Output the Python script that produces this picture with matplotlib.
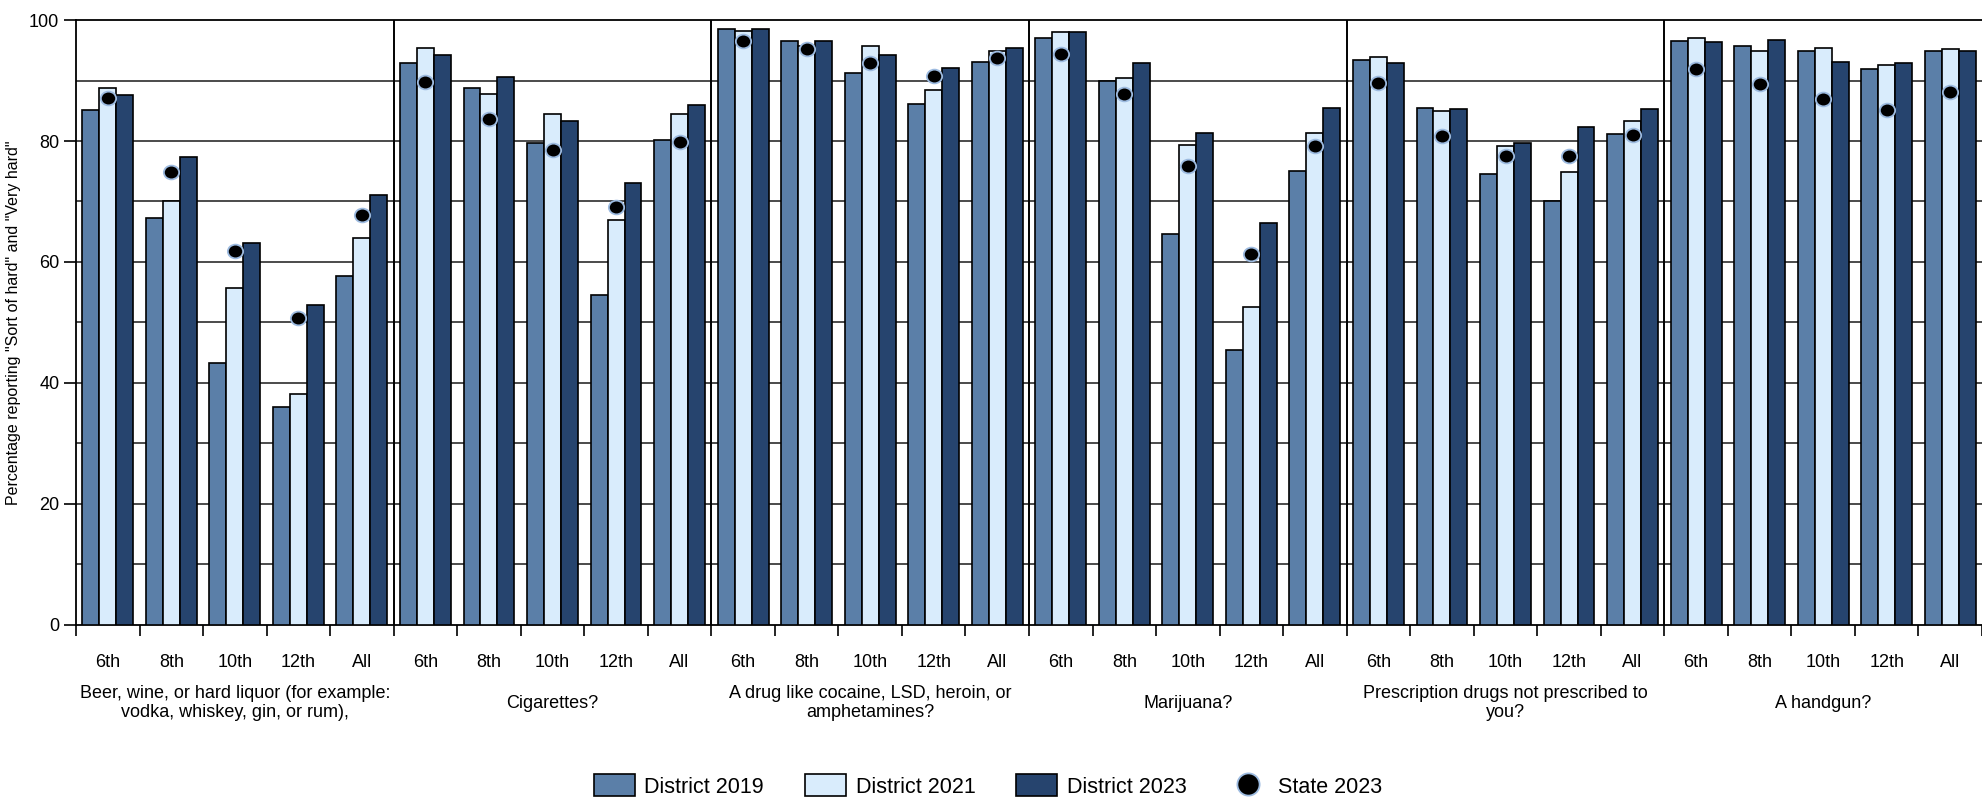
import numpy as np
import matplotlib
matplotlib.use("Agg")
import matplotlib.pyplot as plt
from matplotlib.patches import Patch
from matplotlib.lines import Line2D
from matplotlib.path import Path
from matplotlib.transforms import blended_transform_factory, Affine2D

plt.rcParams['font.family'] = ['Liberation Sans Narrow', 'Liberation Sans', 'DejaVu Sans']

grades = ["6th", "8th", "10th", "12th", "All"]
groups = [
    "Beer, wine, or hard liquor (for example:\nvodka, whiskey, gin, or rum),",
    "Cigarettes?",
    "A drug like cocaine, LSD, heroin, or\namphetamines?",
    "Marijuana?",
    "Prescription drugs not prescribed to\nyou?",
    "A handgun?",
]

district_2019 = [85.1, 67.2, 43.3, 36.0, 57.7,
                 92.9, 88.7, 79.7, 54.6, 80.1,
                 98.5, 96.6, 91.2, 86.1, 93.1,
                 97.1, 90.0, 64.7, 45.5, 75.1,
                 93.4, 85.5, 74.6, 70.1, 81.1,
                 96.6, 95.7, 94.9, 92.0, 94.9]
district_2021 = [88.7, 70.0, 55.7, 38.2, 63.9,
                 95.4, 87.8, 84.4, 66.9, 84.4,
                 98.2, 95.8, 95.7, 88.4, 94.9,
                 98.0, 90.4, 79.3, 52.6, 81.4,
                 93.9, 85.0, 79.1, 74.8, 83.3,
                 97.1, 94.9, 95.4, 92.6, 95.2]
district_2023 = [87.6, 77.4, 63.1, 52.9, 71.1,
                 94.3, 90.6, 83.3, 73.1, 85.9,
                 98.5, 96.6, 94.3, 92.1, 95.4,
                 98.0, 92.9, 81.4, 66.4, 85.5,
                 92.9, 85.3, 79.7, 82.4, 85.3,
                 96.4, 96.8, 93.1, 92.9, 94.9]
state_2023 = [87.1, 74.8, 61.8, 50.7, 67.8,
              89.8, 83.6, 78.6, 69.1, 79.9,
              96.5, 95.2, 92.9, 90.7, 93.7,
              94.4, 87.8, 75.8, 61.3, 79.1,
              89.6, 80.9, 77.6, 77.5, 81.0,
              91.9, 89.5, 86.9, 85.2, 88.2]

c2019 = '#5b7fa8'
c2021 = '#d9ecfc'
c2023 = '#26446e'
dot_edge = '#9dbbe0'

W, H = 1982, 801
fig = plt.figure(figsize=(W / 100, H / 100), dpi=100)
left_px, top_px, bot_px = 76, 20.2, 624.5
cat_px = 63.85
ax = fig.add_axes([left_px / W, 1 - bot_px / H, (W - left_px) / W, (bot_px - top_px) / H])

n = len(district_2019)
x = np.arange(n)
bw = 0.2667
ax.bar(x - bw, district_2019, bw, color=c2019, edgecolor='black', linewidth=1.2, zorder=3)
ax.bar(x, district_2021, bw, color=c2021, edgecolor='black', linewidth=1.2, zorder=3)
ax.bar(x + bw, district_2023, bw, color=c2023, edgecolor='black', linewidth=1.2, zorder=3)

circ = Path.unit_circle()
ell = circ.transformed(Affine2D().scale(1.0, 0.9))
ax.plot(x, state_2023, linestyle='none', marker=ell, markersize=11,
        markerfacecolor='black', markeredgecolor=dot_edge, markeredgewidth=1.3, zorder=4)

ax.set_ylim(0, 100)
ax.set_xlim(-0.5, -0.5 + (W - left_px) / cat_px)

for yv in range(10, 100, 10):
    ax.axhline(yv, color='#1a1a1a', linewidth=1.1, zorder=1)
for g in range(1, len(groups)):
    ax.axvline(5 * g - 0.5, color='black', linewidth=1.4, zorder=2)

ax.spines['right'].set_visible(False)
for s in ['top', 'left', 'bottom']:
    ax.spines[s].set_color('black')
    ax.spines[s].set_linewidth(1.3)

ax.set_yticks(range(0, 101, 20))
ax.tick_params(axis='y', length=9, width=1.2, labelsize=13, pad=3)
ax.set_xticks(np.arange(-0.5, n, 1.0))
ax.set_xticklabels([])
ax.tick_params(axis='x', which='major', length=8, width=1.2)
ax.set_xticks(x, minor=True)
ax.set_xticklabels(grades * len(groups), minor=True)
ax.tick_params(axis='x', which='minor', length=0, labelsize=13, pad=21)

ax.set_ylabel('Percentage reporting "Sort of hard" and "Very hard"', fontsize=11.5)
ax.yaxis.set_label_coords(-(left_px - 21) / (W - left_px), 0.5)

tr = blended_transform_factory(ax.transData, fig.transFigure)
for gi, name in enumerate(groups):
    ax.text(5 * gi + 2, 1 - 703 / H, name, transform=tr, ha='center', va='center',
            multialignment='center', fontsize=13, linespacing=1.15)

handles = [
    Patch(facecolor=c2019, edgecolor='black', linewidth=1.2, label='District 2019'),
    Patch(facecolor=c2021, edgecolor='black', linewidth=1.2, label='District 2021'),
    Patch(facecolor=c2023, edgecolor='black', linewidth=1.2, label='District 2023'),
    Line2D([], [], linestyle='none', marker='o',
           markersize=16, markerfacecolor='black', markeredgecolor=dot_edge,
           markeredgewidth=1.3, label='State 2023'),
]
fig.legend(handles=handles, loc='lower center', bbox_to_anchor=(0.4985, -0.012), ncol=4,
           frameon=False, fontsize=15.5, handlelength=1.9, handleheight=1.2,
           handletextpad=0.45, columnspacing=1.9, borderpad=0.1)

fig.savefig('out.png', dpi=100)
